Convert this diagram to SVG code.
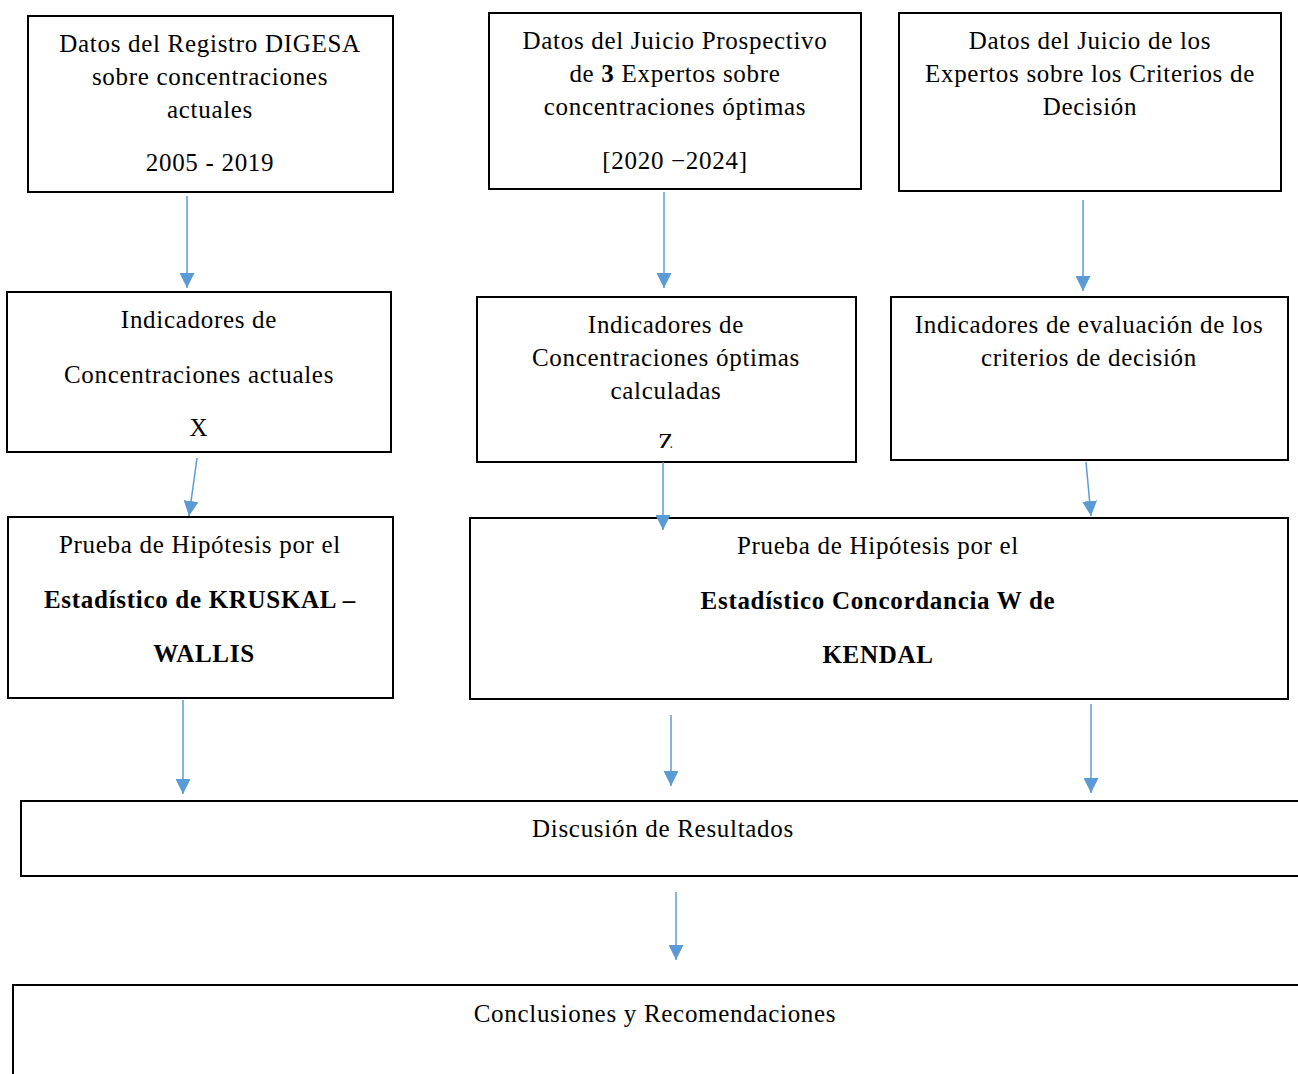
<svg xmlns="http://www.w3.org/2000/svg" width="1298" height="1074" viewBox="0 0 1298 1074">
<style>
.box{fill:#fff;stroke:#000;stroke-width:2}
text{font-family:"Liberation Serif","Times New Roman",serif;font-size:25px;letter-spacing:0.7px;fill:#000;text-anchor:middle}
.b{font-weight:bold}
.c{stroke:#5B9BD5;stroke-width:1.5;fill:none}
</style>
<defs>
<marker id="ah" markerWidth="15" markerHeight="15" viewBox="0 0 15 15" refX="15" refY="7.5" orient="auto" markerUnits="userSpaceOnUse">
<path d="M0,0 L15,7.5 L0,15 Z" fill="#5B9BD5"/>
</marker>
<clipPath id="clipZ"><rect x="477" y="297" width="379" height="151"/></clipPath>
</defs>
<g id="n1"><rect class="box" x="28" y="16" width="365" height="176"/>
<text x="210" y="52">Datos del Registro DIGESA</text>
<text x="210" y="85">sobre concentraciones</text>
<text x="210" y="118">actuales</text>
<text x="210" y="171">2005 - 2019</text></g>
<g id="n2"><rect class="box" x="489" y="13" width="372" height="176"/>
<text x="675" y="49">Datos del Juicio Prospectivo</text>
<text x="675" y="82">de <tspan class="b">3</tspan> Expertos sobre</text>
<text x="675" y="115">concentraciones óptimas</text>
<text x="675" y="169">[2020 −2024]</text></g>
<g id="n3"><rect class="box" x="899" y="13" width="382" height="178"/>
<text x="1090" y="49">Datos del Juicio de los</text>
<text x="1090" y="82">Expertos sobre los Criterios de</text>
<text x="1090" y="115">Decisión</text></g>
<g id="n4"><rect class="box" x="7" y="292" width="384" height="160"/>
<text x="199" y="328">Indicadores de</text>
<text x="199" y="383">Concentraciones actuales</text>
<text x="199" y="436">X</text></g>
<g id="n5"><rect class="box" x="477" y="297" width="379" height="165"/>
<text x="666" y="333">Indicadores de</text>
<text x="666" y="366">Concentraciones óptimas</text>
<text x="666" y="399">calculadas</text>
<text x="666" y="451" clip-path="url(#clipZ)">Z</text></g>
<g id="n6"><rect class="box" x="891" y="297" width="397" height="163"/>
<text x="1089" y="333">Indicadores de evaluación de los</text>
<text x="1089" y="366">criterios de decisión</text></g>
<g id="n7"><rect class="box" x="8" y="517" width="385" height="181"/>
<text x="200" y="553">Prueba de Hipótesis por el</text>
<text class="b" x="200" y="608">Estadístico de KRUSKAL –</text>
<text class="b" x="204" y="662">WALLIS</text></g>
<g id="n8"><rect class="box" x="470" y="518" width="818" height="181"/>
<text x="878" y="554">Prueba de Hipótesis por el</text>
<text class="b" x="878" y="609">Estadístico Concordancia W de</text>
<text class="b" x="878" y="663">KENDAL</text></g>
<g id="n9"><rect class="box" x="21" y="801" width="1290" height="75"/>
<text x="663" y="837">Discusión de Resultados</text></g>
<g id="n10"><rect class="box" x="13" y="985" width="1300" height="100"/>
<text x="655" y="1022">Conclusiones y Recomendaciones</text></g>
<g id="connectors">
<line class="c" x1="187" y1="196" x2="187" y2="288" marker-end="url(#ah)"/>
<line class="c" x1="664" y1="192" x2="664" y2="288" marker-end="url(#ah)"/>
<line class="c" x1="1083" y1="200" x2="1083" y2="291" marker-end="url(#ah)"/>
<line class="c" x1="197" y1="458" x2="189" y2="516" marker-end="url(#ah)"/>
<line class="c" x1="663" y1="462" x2="663" y2="530" marker-end="url(#ah)"/>
<line class="c" x1="1086" y1="462" x2="1091" y2="516" marker-end="url(#ah)"/>
<line class="c" x1="183" y1="700" x2="183" y2="794" marker-end="url(#ah)"/>
<line class="c" x1="671" y1="715" x2="671" y2="786" marker-end="url(#ah)"/>
<line class="c" x1="1091" y1="704" x2="1091" y2="793" marker-end="url(#ah)"/>
<line class="c" x1="676" y1="892" x2="676" y2="960" marker-end="url(#ah)"/>
</g>
</svg>
